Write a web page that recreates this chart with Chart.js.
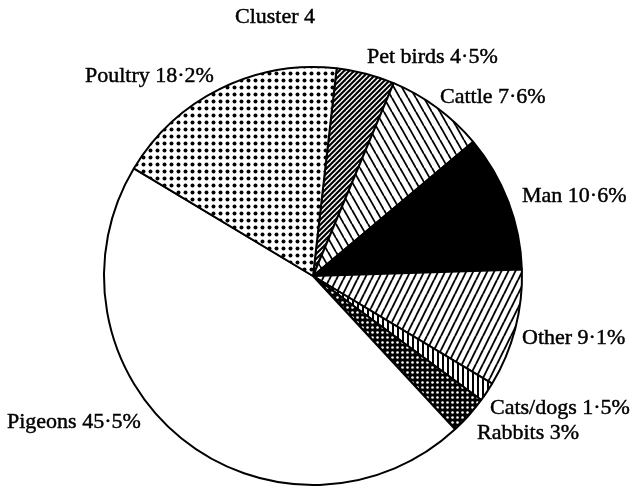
<!DOCTYPE html>
<html><head><meta charset="utf-8">
<script src="https://cdn.jsdelivr.net/npm/chart.js@4.4.0/dist/chart.umd.min.js"></script>
<style>html,body{margin:0;padding:0;background:#fff}#wrap{width:635px;height:496px;position:relative}</style>
</head><body><div id="wrap"><canvas id="c"></canvas></div>
<script>
// ---- data ----
const chartTitle = 'Cluster 4';
const categories = ['Pet birds', 'Cattle', 'Man', 'Other', 'Cats/dogs', 'Rabbits', 'Pigeons', 'Poultry'];
const percentages = [4.5, 7.6, 10.6, 9.1, 1.5, 3, 45.5, 18.2];

// ---- label placement (left x, baseline y) ----
const labelPos = [[367, 63], [440, 103], [522, 202], [522, 344], [490, 414], [477, 439], [7, 428], [85, 82]];
const titlePos = [275, 23];

const fmt = v => String(v).replace('.', '\u00B7') + '%';

function makeTile(w, h, bg, draw) {
  const c = document.createElement('canvas');
  c.width = w; c.height = h;
  const g = c.getContext('2d');
  g.fillStyle = bg; g.fillRect(0, 0, w, h);
  g.fillStyle = '#000'; g.strokeStyle = '#000';
  draw(g, w, h);
  return g.createPattern(c, 'repeat');
}
function lines(g, segs, lw) {
  g.lineWidth = lw; g.lineCap = 'butt';
  segs.forEach(s => { g.beginPath(); g.moveTo(s[0], s[1]); g.lineTo(s[2], s[3]); g.stroke(); });
}
const patPetBirds = makeTile(5, 5, '#fff', (g, w, h) => lines(g, [[-5, 5, 5, -5], [0, 5, 5, 0], [0, 10, 10, 0]], 2.1));
const patCattle = makeTile(8, 14, '#fff', (g, w, h) => lines(g, [[-8, 0, 0, 14], [0, 0, 8, 14], [8, 0, 16, 14]], 1.8));
const patOther = makeTile(7, 14, '#fff', (g, w, h) => lines(g, [[0, 0, -7, 14], [7, 0, 0, 14], [14, 0, 7, 14]], 1.9));
const patCats = makeTile(5, 4, '#fff', (g, w, h) => { g.fillRect(2, 0, 2, h); });
const patRabbits = makeTile(5, 5, '#000', (g, w, h) => { g.fillStyle = '#fff'; g.beginPath(); g.arc(2.5, 2.5, 1.3, 0, Math.PI * 2); g.fill(); });
const patPoultry = makeTile(7, 7, '#fff', (g, w, h) => { g.beginPath(); g.arc(3.5, 3.5, 2.0, 0, Math.PI * 2); g.fill(); });
const fills = [patPetBirds, patCattle, '#000', patOther, patCats, patRabbits, '#fff', patPoultry];

const textPlugin = {
  id: 'texts',
  beforeDraw(chart) {
    const ctx = chart.ctx;
    ctx.save(); ctx.fillStyle = '#fff'; ctx.fillRect(0, 0, chart.width, chart.height); ctx.restore();
  },
  afterDraw(chart) {
    const ctx = chart.ctx;
    ctx.save();
    ctx.fillStyle = '#000';
    ctx.strokeStyle = '#000';
    ctx.lineWidth = 0.45;
    ctx.font = '22px "Liberation Serif", "Times New Roman", serif';
    ctx.textBaseline = 'alphabetic';
    ctx.textAlign = 'center';
    ctx.fillText(chartTitle, titlePos[0], titlePos[1]);
    ctx.strokeText(chartTitle, titlePos[0], titlePos[1]);
    ctx.textAlign = 'left';
    categories.forEach((c, i) => {
      const t = c + ' ' + fmt(percentages[i]);
      ctx.fillText(t, labelPos[i][0], labelPos[i][1]);
      ctx.strokeText(t, labelPos[i][0], labelPos[i][1]);
    });
    ctx.restore();
  }
};

new Chart(document.getElementById('c'), {
  type: 'pie',
  data: {
    labels: categories,
    datasets: [{
      data: percentages,
      backgroundColor: fills,
      borderColor: '#000',
      borderWidth: 2
    }]
  },
  options: {
    responsive: true,
    maintainAspectRatio: false,
    animation: false,
    rotation: 6.5,
    layout: { padding: { left: 103, right: 112, top: 66, bottom: 10 } },
    plugins: { legend: { display: false }, tooltip: { enabled: false }, title: { display: false } }
  },
  plugins: [textPlugin]
});
</script>
</body></html>
